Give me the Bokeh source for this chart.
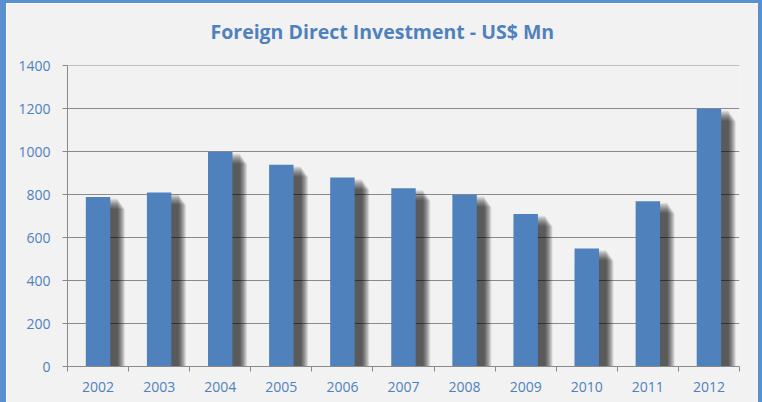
from bokeh.plotting import figure
from bokeh.models import Range1d, FixedTicker, Title
from bokeh.embed import file_html
from bokeh.resources import INLINE

years = ["2002", "2003", "2004", "2005", "2006", "2007", "2008", "2009", "2010", "2011", "2012"]
fdi = [790, 810, 1000, 940, 880, 830, 800, 710, 550, 770, 1200]
y_ticks = [0, 200, 400, 600, 800, 1000, 1200, 1400]

BLUE = "#4f81bd"
FRAME_BLUE = "#5a8fd0"
TEXT = "#4f81bd"
GRAY = "#8a8a8a"
BG = "#f2f2f2"

xs = list(range(len(years)))

# outer blue border: 6px left, 3px top, 4px right
p = figure(width=752, height=399, output_backend="svg", toolbar_location=None,
           x_range=Range1d(-0.5, len(years) - 0.5), y_range=Range1d(0, 1402),
           min_border_left=61, min_border_right=29, min_border_bottom=39, min_border_top=62)
p.styles = {"border-left": "6px solid " + FRAME_BLUE,
            "border-top": "3px solid " + FRAME_BLUE,
            "border-right": "4px solid " + FRAME_BLUE,
            "box-sizing": "content-box"}
p.background_fill_color = BG
p.border_fill_color = BG
p.outline_line_color = None

# spacer between frame and title
spacer = Title(text=" ", text_font_size="1px", standoff=16, text_color=BG)
p.add_layout(spacer, "above")

t = Title(text="Foreign Direct Investment - US$ Mn", align="left",
          text_font="Open Sans", text_font_size="19.5px", text_font_style="bold",
          text_color=TEXT, standoff=4, offset=143)
p.add_layout(t, "above")

# soft drop shadow (layers)
for k in range(13):
    w = 0.40 + 0.02 * k
    sx = [x + 0.12 for x in xs]
    tops = [v - 8 - 4 * k for v in fdi]
    p.vbar(x=sx, top=tops, bottom=0, width=w, fill_color="black", fill_alpha=0.07,
           line_color=None)

p.vbar(x=xs, top=fdi, bottom=0, width=0.4, fill_color=BLUE, line_color=None)

# axes
p.xaxis.ticker = FixedTicker(ticks=xs, minor_ticks=[x - 0.5 for x in xs] + [xs[-1] + 0.5])
p.xaxis.major_label_overrides = {x: y for x, y in zip(xs, years)}
p.xaxis.major_tick_line_color = None
p.xaxis.major_tick_out = 0
p.xaxis.major_tick_in = 0
p.xaxis.minor_tick_out = 5
p.xaxis.minor_tick_in = 0
p.xaxis.minor_tick_line_color = GRAY
p.xaxis.axis_line_color = GRAY
p.xaxis.major_label_standoff = 10
p.xaxis.major_label_text_font = "Open Sans"
p.xaxis.major_label_text_font_size = "14px"
p.xaxis.major_label_text_color = TEXT

p.yaxis.ticker = FixedTicker(ticks=y_ticks)
p.yaxis.major_tick_out = 5
p.yaxis.major_tick_in = 0
p.yaxis.minor_tick_line_color = None
p.yaxis.major_tick_line_color = GRAY
p.yaxis.axis_line_color = GRAY
p.yaxis.major_label_standoff = 12
p.yaxis.major_label_text_font = "Open Sans"
p.yaxis.major_label_text_font_size = "14px"
p.yaxis.major_label_text_color = TEXT

p.xgrid.grid_line_color = None
p.ygrid.grid_line_color = GRAY
p.ygrid.grid_line_width = 1

open("out.html", "w").write(file_html(p, INLINE))
